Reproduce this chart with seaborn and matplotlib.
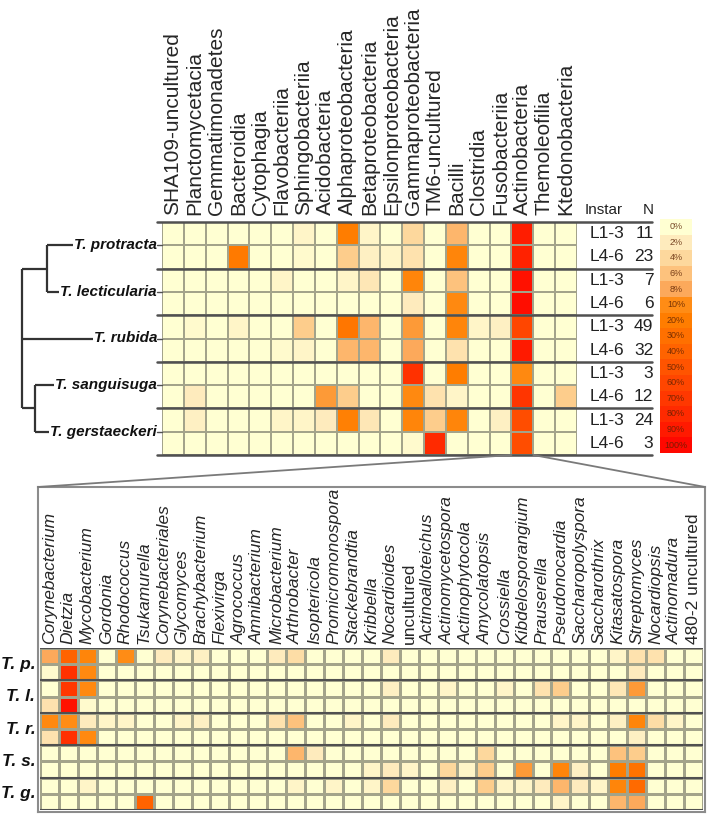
import numpy as np
import pandas as pd
import matplotlib.pyplot as plt
import seaborn as sns
from matplotlib.colors import LinearSegmentedColormap
from matplotlib.lines import Line2D

# ================================================
# Data
# ================================================
species = ["T. protracta", "T. lecticularia", "T. rubida", "T. sanguisuga", "T. gerstaeckeri"]
species_short = ["T. p.", "T. l.", "T. r.", "T. s.", "T. g."]
instar = ["L1-3", "L4-6"] * 5
n_samples = [11, 23, 7, 6, 49, 32, 3, 12, 24, 3]

classes = ["SHA109-uncultured", "Planctomycetacia", "Gemmatimonadetes", "Bacteroidia",
           "Cytophagia", "Flavobacteriia", "Sphingobacteriia", "Acidobacteria",
           "Alphaproteobacteria", "Betaproteobacteria", "Epsilonproteobacteria",
           "Gammaproteobacteria", "TM6-uncultured", "Bacilli", "Clostridia",
           "Fusobacteriia", "Actinobacteria", "Themoleofilia", "Ktedonobacteria"]

# relative abundance (%) per sample group, one row per instar group
class_pct = [
    [0, 0, 0, 0, 0, 0, 1, 0, 20, 1, 0, 4, 0, 7, 0, 0, 88, 0, 0],
    [0, 0, 0, 22, 0, 0, 0.5, 0, 5, 1.5, 1, 3, 0, 15, 0, 0, 85, 0, 0],
    [0, 0, 0, 0, 0, 1, 0, 0, 1, 2.5, 0, 15, 0, 6, 0, 0, 95, 0, 0],
    [0, 0, 0, 0, 0, 0, 0, 0, 0, 0, 0, 2, 0, 12, 0, 0, 97, 0, 0],
    [0, 0.5, 0, 1, 0, 0, 5, 0, 25, 7, 0, 9, 0, 15, 1, 1.5, 60, 0, 0],
    [0, 0, 0, 0, 0, 0.5, 1, 0, 7, 7, 0, 8, 0, 3, 0, 0, 90, 0, 0],
    [0, 0, 0, 0, 0, 0, 0, 0, 0, 0, 0, 75, 0, 20, 0, 0, 12, 0, 0],
    [0, 2, 0, 0, 0, 0, 0, 9, 5, 0, 0, 12, 3, 1, 0, 0, 72, 0, 5],
    [0, 1.5, 0, 0, 0, 1, 1, 2, 18, 2.5, 0, 15, 5, 15, 0, 1.5, 55, 0, 0],
    [0, 0, 0, 0, 0, 0, 0, 0, 0, 0, 0, 0.5, 80, 0, 0, 0, 55, 0, 0],
]

genera = ["Corynebacterium", "Dietzia", "Mycobacterium", "Gordonia", "Rhodococcus",
          "Tsukamurella", "Corynebacteriales", "Glycomyces", "Brachybacterium",
          "Flexivirga", "Agrococcus", "Amnibacterium", "Microbacterium", "Arthrobacter",
          "Isoptericola", "Promicromonospora", "Stackebrandtia", "Kribbella",
          "Nocardioides", "uncultured", "Actinoalloteichus", "Actinomycetospora",
          "Actinophytocola", "Amycolatopsis", "Crossiella", "Kibdelosporangium",
          "Prauserella", "Pseudonocardia", "Saccharopolyspora", "Saccharothrix",
          "Kitasatospora", "Streptomyces", "Nocardiopsis", "Actinomadura",
          "480-2 uncultured"]
upright_genera = ["uncultured", "480-2 uncultured"]

genus_pct = [
    [8, 40, 15, 0, 10, 0, 2, 1, 1.5, 0, 0, 0, 2, 3.5, 0, 0, 0, 0, 2, 0,
     0, 0, 0, 0, 0, 0, 0, 0, 0, 0, 1, 3, 3, 0, 0],
    [0.5, 75, 12, 0, 0, 0, 0, 0, 0, 0, 0, 0, 0, 0, 0, 0, 0, 0, 0, 0,
     0, 0, 0, 0, 0, 0, 0, 0, 0, 0, 0, 2, 0, 0, 0],
    [0, 70, 12, 0, 0, 0, 0, 0, 0, 0, 0, 0, 0, 0, 0, 0, 0, 0, 1.5, 0,
     0, 1, 0, 0, 1, 0, 3, 5, 0, 0, 2.5, 9, 0, 0, 0],
    [3, 95, 0.5, 0, 0, 0, 0, 0, 0, 0, 0, 0, 0, 0, 0, 0, 0, 0, 0, 0,
     0, 0, 0, 0, 0, 0, 0, 0, 0, 0, 0, 0, 0, 0, 0],
    [12, 10, 2, 1, 1, 0, 0, 1, 1.5, 0, 0, 0, 3, 6, 0, 0, 1, 0, 2, 0,
     0, 0, 0, 0, 0, 0, 0, 1, 1, 0, 1.5, 15, 3.5, 1, 0],
    [3, 75, 12, 0, 0, 0, 0, 0, 0, 0, 0, 0, 0, 0, 0, 0, 0, 0, 0, 0,
     0, 0, 0, 0, 0, 0, 0, 0, 0, 0, 0, 1.5, 0, 0, 0],
    [0, 0, 0, 0, 0, 0, 0, 0, 0, 0, 0, 0, 0, 7, 2, 0, 0, 0, 0, 0,
     0, 0, 0, 4, 0, 0, 0, 0, 0, 0, 6, 5, 0, 0, 0],
    [0, 0, 0, 0, 0, 0, 0, 0, 0, 0, 0, 0, 0, 0, 0, 0, 0, 1, 2, 1,
     0, 4, 1, 5, 0, 9, 0, 15, 1.5, 0, 20, 28, 0, 0, 0],
    [0, 0, 1, 0, 0, 0, 0, 0, 0, 0, 0, 0, 0, 1, 0, 1, 0, 1, 4, 0,
     0, 1.5, 0, 5, 1, 1, 2, 7, 2, 1, 15, 35, 0, 0, 0],
    [0, 0, 0, 0, 0, 40, 0, 0, 0, 0, 0, 0, 0, 0, 0, 0, 0, 0, 0, 0,
     0, 0, 0, 0, 0, 0, 0, 1, 0, 0, 7, 8, 0, 0, 0],
]

legend_levels = [0, 2, 4, 6, 8, 10, 20, 30, 40, 50, 60, 70, 80, 90, 100]
legend_colors = ["#ffffd2", "#feebbd", "#fdd79c", "#fdc27c", "#fca85a", "#ff8c14",
                 "#ff7d00", "#ff7000", "#ff6300", "#ff5400", "#ff4600", "#ff3800",
                 "#ff2a00", "#ff1a00", "#ff0800"]

# ================================================
# Figure setup
# ================================================
sns.set_theme(style="white")
plt.rcParams["font.family"] = ["Liberation Sans", "DejaVu Sans"]

W, H = 709, 815
fig = plt.figure(figsize=(W / 100, H / 100), dpi=100)


def px_axes(x0, y0, x1, y1):
    # axes placed by pixel box (top-left origin)
    return fig.add_axes([x0 / W, 1 - y1 / H, (x1 - x0) / W, (y1 - y0) / H])


cmap = LinearSegmentedColormap.from_list(
    "pct", [(v / 100, c) for v, c in zip(legend_levels, legend_colors)], N=1024)
grid_col = "#a3a38a"
sep_col = "#505050"

# ================================================
# Class-level heatmap
# ================================================
top = pd.DataFrame(class_pct, columns=classes)
ax = px_axes(162, 222, 577, 455)
sns.heatmap(top, ax=ax, cmap=cmap, vmin=0, vmax=100, cbar=False,
            linewidths=1.2, linecolor=grid_col, yticklabels=False)
ax.xaxis.tick_top()
ax.set_xticks(np.arange(len(classes)) + 0.5)
ax.set_xticklabels(classes, rotation=90, fontsize=15)
ax.tick_params(axis="x", length=0, pad=5, top=True, bottom=False,
               labeltop=True, labelbottom=False)
ax.set_xlabel("")

ncol = len(classes)
for y in range(0, 11, 2):
    ax.plot([-0.25, ncol + 3.45], [y, y], color=sep_col, lw=1.8, clip_on=False)
for y in range(1, 10, 2):
    ax.plot([-0.25, 0], [y, y], color=sep_col, lw=1.0, clip_on=False)

for i, (ins, n) in enumerate(zip(instar, n_samples)):
    ax.text(ncol + 0.6, i + 0.5, ins, ha="left", va="center", fontsize=12.5, color="#222222")
    ax.text(ncol + 3.5, i + 0.5, str(n), ha="right", va="center", fontsize=12.5, color="#222222")
ax.text(ncol + 0.37, -0.2, "Instar", ha="left", va="bottom", fontsize=11, color="#222222")
ax.text(ncol + 3.5, -0.2, "N", ha="right", va="bottom", fontsize=11, color="#222222")

# ================================================
# Host phylogeny
# ================================================
tr = px_axes(0, 222, 162, 455)
tr.set_xlim(0, 162)
tr.set_ylim(10, 0)
tr.axis("off")
labels = []
for k, sp in enumerate(species):
    labels.append(tr.text(157, 2 * k + 1, sp, ha="right", va="center", fontsize=11,
                          fontweight="bold", fontstyle="italic", color="#111111"))

fig.canvas.draw()
renderer = fig.canvas.get_renderer()
inv = tr.transData.inverted()
tips = [inv.transform(t.get_window_extent(renderer).p0)[0] - 1 for t in labels]

root_x, a_x, b_x = 22, 47, 35
branches = [
    ([root_x, root_x], [2, 8]),
    ([root_x, a_x], [2, 2]),
    ([a_x, a_x], [1, 3]),
    ([a_x, tips[0]], [1, 1]),
    ([a_x, tips[1]], [3, 3]),
    ([root_x, tips[2]], [5, 5]),
    ([root_x, b_x], [8, 8]),
    ([b_x, b_x], [7, 9]),
    ([b_x, tips[3]], [7, 7]),
    ([b_x, tips[4]], [9, 9]),
]
for xs, ys in branches:
    tr.plot(xs, ys, color="#333333", lw=1.6, solid_capstyle="butt")

# ================================================
# Colour legend
# ================================================
lg = px_axes(660, 219, 692, 453)
leg_df = pd.DataFrame({"pct": legend_levels})
sns.heatmap(leg_df, ax=lg, cmap=cmap, vmin=0, vmax=100, cbar=False,
            annot=np.array([[f"{v}%"] for v in legend_levels]), fmt="",
            annot_kws=dict(fontsize=6.5, color=(0.35, 0.12, 0.0, 0.8)),
            xticklabels=False, yticklabels=False)

# ================================================
# Zoom box: Actinobacteria genera
# ================================================
bx = px_axes(38, 487, 705, 812)
bx.set_xticks([])
bx.set_yticks([])
bx.set_facecolor("white")
for s in bx.spines.values():
    s.set_color("#8c8c8c")
    s.set_linewidth(1.5)

x_left = 162 + 16 * (577 - 162) / ncol
x_right = 162 + 17 * (577 - 162) / ncol
for xa, xb in [(x_left, 38), (x_right, 705)]:
    fig.add_artist(Line2D([xa / W, xb / W], [1 - 455 / H, 1 - 487 / H],
                          transform=fig.transFigure, color="#7a7a7a", lw=1.3))

bottom = pd.DataFrame(genus_pct, columns=genera)
bt = px_axes(40, 648, 703, 810)
sns.heatmap(bottom, ax=bt, cmap=cmap, vmin=0, vmax=100, cbar=False,
            linewidths=1.0, linecolor=grid_col, yticklabels=False)
bt.xaxis.tick_top()
bt.set_xticks(np.arange(len(genera)) + 0.5)
bt.set_xticklabels(genera, rotation=90, fontsize=12.5)
for lab in bt.get_xticklabels():
    if lab.get_text() not in upright_genera:
        lab.set_fontstyle("italic")
bt.tick_params(axis="x", length=0, pad=3, top=True, bottom=False,
               labeltop=True, labelbottom=False)
bt.set_xlabel("")
for y in range(0, 11, 2):
    bt.axhline(y, color=sep_col, lw=1.5)
for k, sp in enumerate(species_short):
    bt.text(-0.25, 2 * k + 1, sp, ha="right", va="center", fontsize=12.5,
            fontweight="bold", fontstyle="italic", color="#111111")

fig.savefig("out.png", dpi=100)
